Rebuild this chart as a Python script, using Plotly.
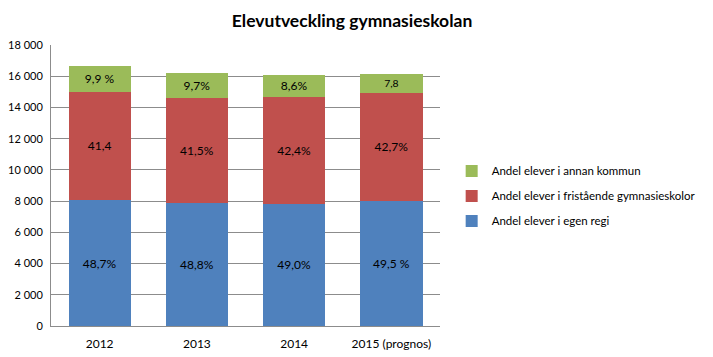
import plotly.graph_objects as go

years = ["2012", "2013", "2014", "2015 (prognos)"]
egen_regi = [8070, 7900, 7820, 8010]
fristaende = [6940, 6710, 6850, 6940]
annan_kommun = [1650, 1620, 1410, 1220]
egen_lbl = ["48,7%", "48,8%", "49,0%", "49,5 %"]
frist_lbl = ["41,4", "41,5%", "42,4%", "42,7%"]
annan_lbl = ["9,9 %", "9,7%", "8,6%", "7,8"]
yticks = [0, 2000, 4000, 6000, 8000, 10000, 12000, 14000, 16000, 18000]
ytick_text = ["0", "2 000", "4 000", "6 000", "8 000", "10 000", "12 000", "14 000", "16 000", "18 000"]

font = "Lato"
fig = go.Figure()
series = [
    ("Andel elever i egen regi", egen_regi, egen_lbl, "#4f81bd", "a", 3),
    ("Andel elever i fristående gymnasieskolor", fristaende, frist_lbl, "#c0504d", "b", 2),
    ("Andel elever i annan kommun", annan_kommun, annan_lbl, "#9bbb59", "c", 1),
]
for name, vals, lbl, col, grp, rank in series:
    fig.add_trace(go.Bar(
        x=years, y=vals, name=name, marker=dict(color=col, line=dict(width=0)),
        text=lbl, textposition="inside", insidetextanchor="middle",
        textfont=dict(color="black", size=12, family=font), legendgroup=grp, legendrank=rank,
    ))

# page body has an 8px margin, so the figure is shifted by 8px; sizes compensate
fig.update_layout(
    barmode="stack", bargap=0.36,
    width=705, height=349,
    margin=dict(l=43, r=257, t=37, b=31),
    paper_bgcolor="white", plot_bgcolor="white",
    title=dict(text="<b>Elevutveckling gymnasieskolan</b>", x=0.488, xref="container", xanchor="center",
               y=0.962, yref="container", yanchor="middle",
               font=dict(size=17.5, family=font, color="black")),
    font=dict(family=font, size=12, color="black"),
    legend=dict(x=1.03, y=0.463, xanchor="left", yanchor="middle", traceorder="grouped",
                font=dict(size=11.5, family=font), tracegroupgap=6, itemwidth=30,
                bgcolor="rgba(0,0,0,0)"),
)
fig.update_yaxes(range=[0, 18000], tickvals=yticks, ticktext=ytick_text, showgrid=True,
                 gridcolor="#8c8c8c", gridwidth=1, showline=True, linecolor="#8c8c8c",
                 ticks="", ticklabelstandoff=5, tickfont=dict(size=11), zeroline=False, automargin=False)
fig.update_xaxes(showline=True, linecolor="#8c8c8c", ticks="", ticklabelstandoff=7,
                 tickfont=dict(size=12), automargin=False)
fig.write_html("out.html")
